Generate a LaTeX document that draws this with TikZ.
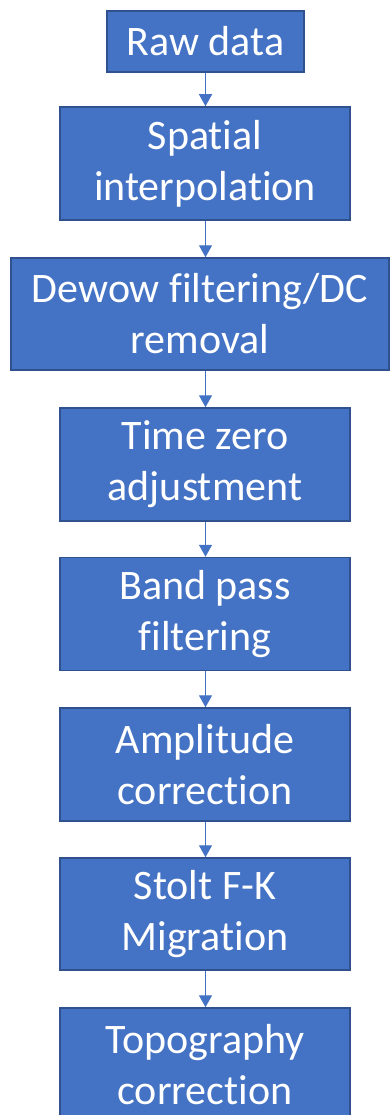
\documentclass[tikz,border=0pt]{standalone}
\usepackage{fontspec}
\setmainfont{Carlito}[Ligatures={NoCommon,NoDiscretionary,NoContextual}]
\usetikzlibrary{arrows.meta}
\definecolor{boxfill}{HTML}{4472C4}
\definecolor{boxline}{HTML}{2F528F}
\newcommand{\nolig}{\kern0pt }
\tikzset{
  stepbox/.style={draw=boxline, line width=1.5pt, fill=boxfill, text=white,
    inner sep=0pt, align=center,
    font=\fontsize{42}{51}\selectfont},
  flow/.style={draw=boxfill, line width=1.3pt, -{Triangle[width=13pt,length=12pt]}}
}
\begin{document}
\begin{tikzpicture}[x=1pt,y=-1pt]
\useasboundingbox (0,0) rectangle (390,1115);
\node[stepbox, minimum width=197pt, minimum height=61pt] (raw) at (205.5,41.5) {Raw data};
\node[stepbox, minimum width=290pt, minimum height=113pt] (spat) at (205,163.5) {Spatial\\interpolation};
\node[stepbox, minimum width=378pt, minimum height=112pt] (dewow) at (200,314) {Dewow f\nolig il\nolig tering/DC\\removal};
\node[stepbox, minimum width=290pt, minimum height=113pt] (tz) at (205,464.5) {Time zero\\adjustment};
\node[stepbox, minimum width=290pt, minimum height=113pt] (bp) at (205,614) {Band pass\\f\nolig il\nolig tering};
\node[stepbox, minimum width=290pt, minimum height=113pt] (amp) at (205,764.5) {Amplitude\\correct\nolig ion};
\node[stepbox, minimum width=290pt, minimum height=112pt] (stolt) at (205,914) {Stolt F-K\\Migrat\nolig ion};
\node[stepbox, minimum width=290pt, minimum height=113pt] (topo) at (205,1064.5) {Topography\\correct\nolig ion};
\foreach \a/\b in {raw/spat,spat/dewow,dewow/tz,tz/bp,bp/amp,amp/stolt,stolt/topo}
  \draw[flow] (\a.south -| raw.south) -- (\b.north -| raw.south);
\end{tikzpicture}
\end{document}
